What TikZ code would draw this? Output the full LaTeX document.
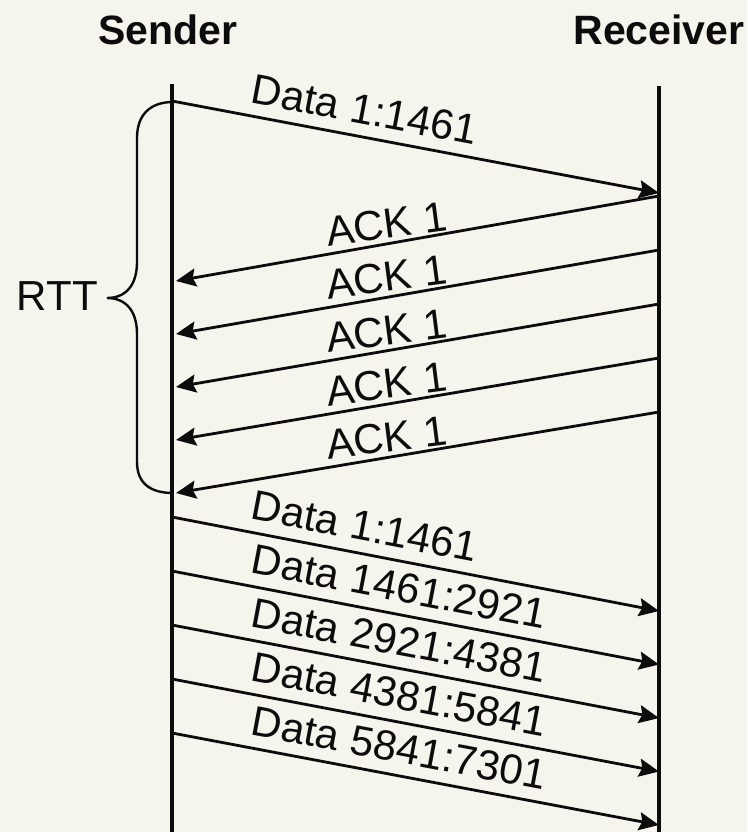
\documentclass[tikz,border=0pt]{standalone}
\usepackage{fontspec}
\setmainfont{Liberation Sans}
\usetikzlibrary{arrows.meta}
\definecolor{paper}{RGB}{245,244,237}
\definecolor{ink}{RGB}{12,12,12}
\begin{document}
\begin{tikzpicture}[x=1pt,y=-1pt,
  life/.style={draw=ink,line width=4pt},
  msg/.style={draw=ink,line width=2.8pt,-{Stealth[length=20pt,width=18pt,inset=3pt]}},
  bracepath/.style={draw=ink,line width=2.4pt},
  head/.style={font=\fontsize{41}{41}\selectfont\bfseries,text=ink,inner sep=0pt},
  lbl/.style={font=\fontsize{42}{42}\selectfont,text=ink},
  dlabel/.style={lbl,pos=0.152,sloped,anchor=south west,inner xsep=0pt,inner ysep=11pt},
  alabel/.style={lbl,pos=0.322,sloped,rotate=-2.3,anchor=south west,inner xsep=0pt,inner ysep=7pt}]
\fill[paper] (0,0) rectangle (747,832);
\useasboundingbox (0,0) rectangle (747,832);
% headings
\node[head,anchor=base] (sender) at (168,45) {Sender};
\node[head,anchor=base] (receiver) at (659,45) {Receiver};
% lifelines
\coordinate (sT) at (172,84);
\coordinate (sB) at (172,832);
\coordinate (rT) at (659,86);
\coordinate (rB) at (659,832);
\draw[life] (sT) -- (sB);
\draw[life] (rT) -- (rB);
% first data segment
\coordinate (d0s) at (172,101);
\coordinate (d0r) at (659,193);
\draw[msg] (d0s) -- (d0r) node[dlabel] (d0l) {Data 1:1461};
% ACKs
\foreach \i in {0,...,4}{
  \coordinate (a\i r) at (659,{196+54*\i});
  \coordinate (a\i s) at (176,{281+53*\i});
  \draw[msg] (a\i r) -- (a\i s);
  \path (172,{281+53*\i}) -- (a\i r) node[alabel] (a\i l) {ACK 1};
}
% second data burst
\foreach \i/\t in {0/1:1461,1/1461:2921,2/2921:4381,3/4381:5841,4/5841:7301}{
  \coordinate (b\i s) at (172,{517+54*\i});
  \coordinate (b\i r) at (659,{611+53.5*\i});
  \draw[msg] (b\i s) -- (b\i r) node[dlabel] (b\i l) {Data \t};
}
% RTT brace
\draw[bracepath] (173,102) .. controls (150,102) and (137,115) .. (137,138)
  -- (137,262) .. controls (137,285) and (126,298) .. (107,298)
  .. controls (126,298) and (137,311) .. (137,334)
  -- (137,462) .. controls (137,483) and (150,493) .. (173,493);
\node[lbl,anchor=east,inner sep=0pt] (rtt) at (98,296) {RTT};
\end{tikzpicture}
\end{document}
